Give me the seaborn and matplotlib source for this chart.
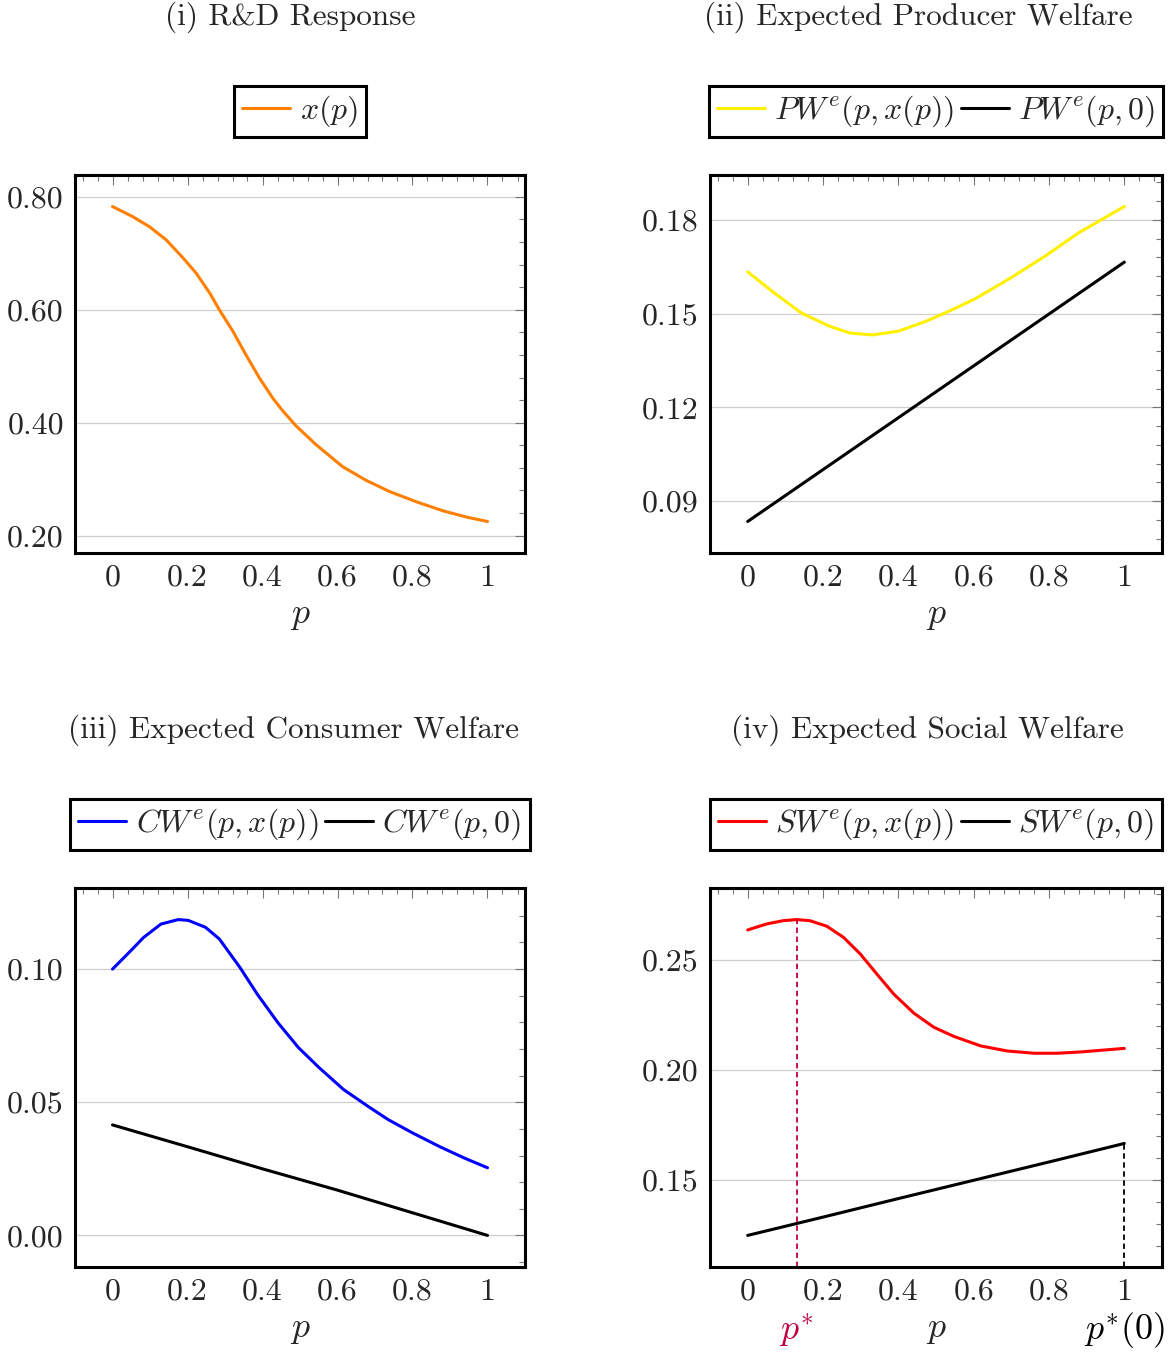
import numpy as np
import pandas as pd
import matplotlib
matplotlib.use("Agg")
import matplotlib.pyplot as plt
from matplotlib.ticker import MultipleLocator
import matplotlib.transforms as mtransforms
import seaborn as sns

# ---------------- data ----------------
p_x = [0.0, 0.054, 0.099, 0.143, 0.188, 0.223, 0.259, 0.285, 0.321, 0.356,
       0.392, 0.428, 0.454, 0.490, 0.543, 0.614, 0.676, 0.739, 0.810, 0.881,
       0.943, 1.0]
x_resp = [0.783, 0.765, 0.747, 0.724, 0.692, 0.665, 0.630, 0.600, 0.562, 0.520,
          0.479, 0.443, 0.421, 0.394, 0.361, 0.322, 0.298, 0.278, 0.260, 0.244,
          0.233, 0.225]

p_pw = [0.0, 0.07, 0.143, 0.217, 0.272, 0.332, 0.40, 0.474, 0.529, 0.603,
        0.695, 0.787, 0.879, 1.0]
pw_x = [0.1634, 0.1567, 0.1502, 0.1460, 0.1438, 0.1432, 0.1444, 0.1476, 0.1505,
        0.1547, 0.1612, 0.1682, 0.1759, 0.1843]

p_lin = [0.0, 0.2, 0.4, 0.6, 0.8, 1.0]
pw_0 = [0.0835, 0.1001, 0.1167, 0.1333, 0.1499, 0.1665]

p_cw = [0.0, 0.046, 0.083, 0.129, 0.175, 0.202, 0.248, 0.285, 0.34, 0.386,
        0.441, 0.496, 0.551, 0.616, 0.68, 0.735, 0.80, 0.873, 0.9375, 1.0]
cw_x = [0.1000, 0.1065, 0.1119, 0.1169, 0.1186, 0.1183, 0.1157, 0.1113, 0.1006,
        0.0906, 0.0799, 0.0705, 0.0630, 0.0548, 0.0486, 0.0435, 0.0385, 0.0333,
        0.0291, 0.0254]
cw_0 = [0.0415, 0.0333, 0.0250, 0.0170, 0.0085, 0.0]

p_sw = [0.0, 0.050, 0.094, 0.13, 0.165, 0.210, 0.254, 0.299, 0.343, 0.388,
        0.441, 0.494, 0.548, 0.619, 0.690, 0.761, 0.823, 0.885, 1.0]
sw_x = [0.2635, 0.2662, 0.2677, 0.2682, 0.2677, 0.2652, 0.2602, 0.2526, 0.2435,
        0.2344, 0.2258, 0.2194, 0.2152, 0.2109, 0.2086, 0.2076, 0.2076, 0.2082,
        0.2098]
sw_0 = [0.125, 0.1333, 0.1417, 0.1500, 0.1583, 0.1667]

p_star = 0.13
sw_star = 0.2682
p_star0 = 1.0
sw0_star = 0.1667

x_ticks = [0, 0.2, 0.4, 0.6, 0.8, 1]
x_ticklabels = ["0", "0.2", "0.4", "0.6", "0.8", "1"]
y_ticks = [[0.20, 0.40, 0.60, 0.80], [0.09, 0.12, 0.15, 0.18],
           [0.00, 0.05, 0.10], [0.15, 0.20, 0.25]]
y_minor = [0.04, 0.006, 0.01, 0.01]

titles = ["(i) R&D Response", "(ii) Expected Producer Welfare",
          "(iii) Expected Consumer Welfare", "(iv) Expected Social Welfare"]

# ---------------- style ----------------
sns.set_style("white")
plt.rcParams["font.family"] = ["cmr10", "DejaVu Serif"]
plt.rcParams["mathtext.fontset"] = "cm"
plt.rcParams["axes.formatter.use_mathtext"] = True
FS = 23
plt.rcParams["font.size"] = FS

W, H = 1170, 1353
fig = plt.figure(figsize=(W / 100, H / 100), dpi=100)


def px_axes(l, t, r, b):
    return fig.add_axes([l / W, 1 - b / H, (r - l) / W, (b - t) / H])


axs = [px_axes(75, 175, 525, 553), px_axes(710, 175, 1162, 553),
       px_axes(75, 888, 525, 1267), px_axes(710, 888, 1162, 1267)]

LW = 2.2
series = [
    [(p_x, x_resp, "#FF8000", r"$x(p)$")],
    [(p_pw, pw_x, "#FFF000", r"$PW^e(p,x(p))$"), (p_lin, pw_0, "black", r"$PW^e(p,0)$")],
    [(p_cw, cw_x, "#0000FF", r"$CW^e(p,x(p))$"), (p_lin, cw_0, "black", r"$CW^e(p,0)$")],
    [(p_sw, sw_x, "#FF0000", r"$SW^e(p,x(p))$"), (p_lin, sw_0, "black", r"$SW^e(p,0)$")],
]

title_cx = [290, 918, 294, 927]
title_cy = [17, 17, 730, 730]

for i, ax in enumerate(axs):
    allv = []
    for px_, vals, col, lab in series[i]:
        df = pd.DataFrame({"p": px_, "v": vals})
        sns.lineplot(data=df, x="p", y="v", color=col, lw=LW, ax=ax, label=lab,
                     sort=True, estimator=None)
        allv += list(vals)
    lo, hi = min(allv), max(allv)
    pad = 0.1 * (hi - lo)
    ax.set_ylim(lo - pad, hi + pad)
    ax.set_xlim(-0.1, 1.1)
    ax.set_xticks(x_ticks, labels=x_ticklabels)
    ax.set_yticks(y_ticks[i], labels=[f"{v:.2f}" for v in y_ticks[i]])
    ax.xaxis.set_minor_locator(MultipleLocator(0.04))
    ax.yaxis.set_minor_locator(MultipleLocator(y_minor[i]))
    ax.tick_params(which="both", direction="in", color="#777777", top=True,
                   right=True, labelsize=FS, width=0.8)
    ax.tick_params(which="major", length=7, pad=8)
    ax.tick_params(which="minor", length=4.5)
    ax.yaxis.grid(True, which="major", color="#cfcfcf", lw=0.9)
    ax.xaxis.grid(False)
    ax.set_axisbelow(True)
    for s in ax.spines.values():
        s.set_color("black")
        s.set_linewidth(2.2)
    ax.set_ylabel("")
    ax.set_xlabel(r"$p$", fontsize=26)
    ax.xaxis.set_label_coords(0.5, -0.125)
    leg = ax.legend(loc="center", bbox_to_anchor=(0.5, 1.168), ncol=2,
                    frameon=True, fancybox=False, edgecolor="black",
                    framealpha=1, handlelength=1.5, handletextpad=0.3,
                    columnspacing=0.2, borderpad=0.25, borderaxespad=0,
                    fontsize=23)
    leg.get_frame().set_linewidth(2.2)
    fig.text(title_cx[i] / W, 1 - title_cy[i] / H, titles[i], ha="center",
             va="center", fontsize=22.5)

# panel (iv) markers
ax = axs[3]
ylo = ax.get_ylim()[0]
ax.vlines(p_star, ylo, sw_star, colors="#BF0040", linestyles=(0, (3, 2)), lw=1.3)
ax.vlines(p_star0, ylo, sw0_star, colors="black", linestyles=(0, (3, 2)), lw=1.3)
trans = mtransforms.blended_transform_factory(ax.transData, ax.transAxes)
ax.text(p_star, -0.167, r"$p^{\ast}$", color="#BF0040", ha="center", va="center",
        transform=trans, fontsize=26)
ax.text(p_star0, -0.167, r"$p^{\ast}(0)$", color="black", ha="center", va="center",
        transform=trans, fontsize=26)

fig.savefig("out.png", dpi=100)
